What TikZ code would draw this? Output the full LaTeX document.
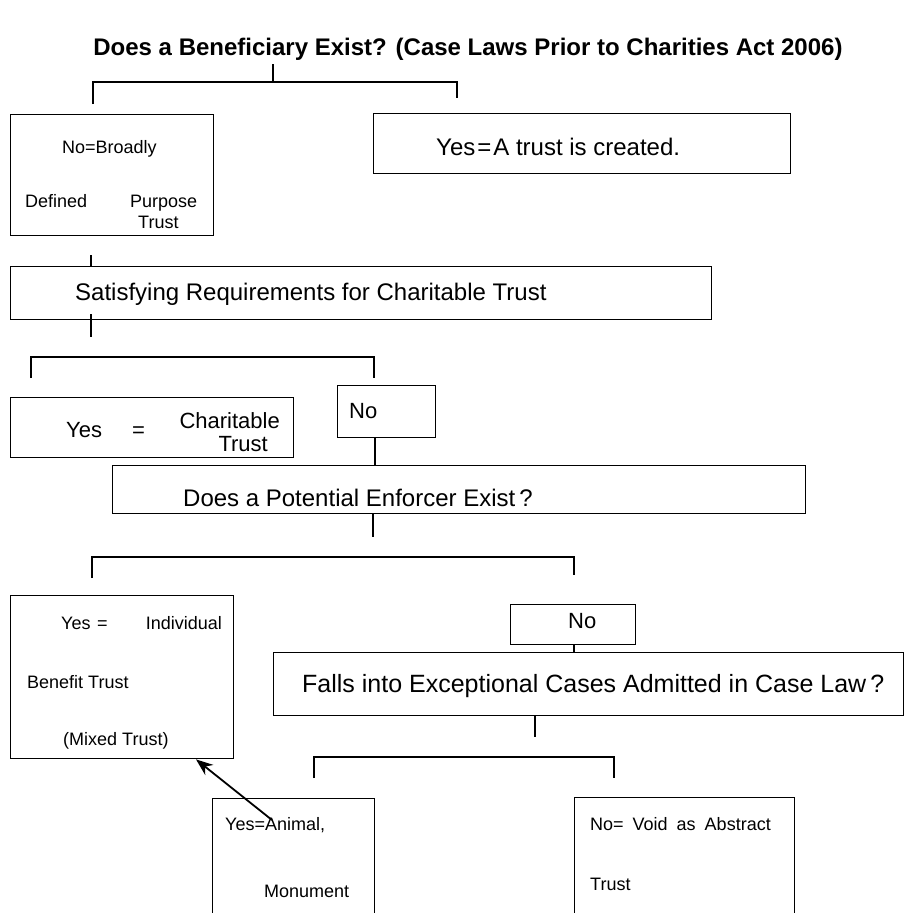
\documentclass[tikz,border=0pt]{standalone}
\usepackage{fontspec}
\setmainfont{Liberation Sans}
\usetikzlibrary{arrows.meta}
\newcommand{\titlesize}{\fontsize{24}{28}\selectfont\bfseries}
\newcommand{\bigsize}{\fontsize{24}{28}\selectfont}
\newcommand{\midsize}{\fontsize{22}{26}\selectfont}
\newcommand{\smallsize}{\fontsize{18}{22}\selectfont}
\begin{document}
\begin{tikzpicture}[x=1pt,y=-1pt,
    box/.style={draw, line width=1.4pt, inner sep=0pt, anchor=north west},
    txt/.style={inner sep=0pt, anchor=base west},
    link/.style={line width=1.4pt}]
  \useasboundingbox (0,0) rectangle (905,913);
  \clip (0,0) rectangle (905,913);
  \node (title) at (468,49) {\titlesize Does a Beneficiary Exist? (Case Laws Prior to Charities Act 2006)};
  % boxes
  \node[box, minimum width=203pt, minimum height=121pt] (broad) at (10,114) {};
  \node[box, minimum width=417pt, minimum height=60pt] (created) at (373,113) {};
  \node[box, minimum width=701pt, minimum height=53pt] (satisfy) at (10,266) {};
  \node[box, minimum width=283pt, minimum height=60pt] (charity) at (10,397) {};
  \node[box, minimum width=98pt, minimum height=52pt] (no1) at (337,385) {};
  \node[box, minimum width=693pt, minimum height=48pt] (enforcer) at (112,465) {};
  \node[box, minimum width=223pt, minimum height=163pt] (individual) at (10,595) {};
  \node[box, minimum width=125pt, minimum height=40pt] (no2) at (510,604) {};
  \node[box, minimum width=630pt, minimum height=63pt] (except) at (273,652) {};
  \node[box, minimum width=162pt, minimum height=140pt] (animal) at (212,798) {};
  \node[box, minimum width=220pt, minimum height=140pt] (abstract) at (574,797) {};
  % texts
  \node[txt] (broad1) at (62,153) {\smallsize No=Broadly};
  \node[txt] (broad2) at (25,207) {\smallsize Defined};
  \node[txt] (broad3) at (130,207) {\smallsize Purpose};
  \node[txt] (broad4) at (138,228) {\smallsize Trust};
  \node[txt] (created1) at (436,155) {\bigsize Yes\kern2pt=\kern2pt A trust is created.};
  \node[txt] (satisfy1) at (75,300) {\bigsize Satisfying Requirements for Charitable Trust};
  \node[txt] (charity1) at (66,437) {\midsize Yes};
  \node[txt] (charity2) at (132,437) {\midsize =};
  \node[txt, anchor=base east] (charity3) at (280,428) {\midsize Charitable};
  \node[txt, anchor=base east] (charity4) at (268,451) {\midsize Trust};
  \node[txt] (no1a) at (349,418) {\midsize No};
  \node[txt] (enforcer1) at (183,506) {\bigsize Does a Potential Enforcer Exist\,?};
  \node[txt] (individual1) at (61,629) {\smallsize Yes};
  \node[txt] (individual2) at (97,629) {\smallsize =};
  \node[txt, anchor=base east] (individual3) at (222,629) {\smallsize Individual};
  \node[txt] (individual4) at (27,688) {\smallsize Benefit Trust};
  \node[txt] (individual5) at (63,745) {\smallsize (Mixed Trust)};
  \node[txt] (no2a) at (568,628) {\midsize No};
  \node[txt] (except1) at (302,692) {\fontsize{25}{29}\selectfont Falls into Exceptional Cases Admitted in Case Law\,?};
  \node[txt] (animal1) at (225,830) {\smallsize Yes=Animal,};
  \node[txt] (animal2) at (264,897) {\smallsize Monument};
  \node[txt] (abstract1) at (590,830) {\smallsize No=\hspace{9pt}Void\hspace{9pt}as\hspace{9pt}Abstract};
  \node[txt] (abstract2) at (590,890) {\smallsize Trust};
  % tree points
  \coordinate (s1) at (273,64);
  \coordinate (bl1) at (93,82);
  \coordinate (br1) at (457,82);
  \coordinate (ll1) at (93,104);
  \coordinate (lr1) at (457,98);
  \coordinate (c1) at (91,255);
  \coordinate (c2) at (91,314);
  \coordinate (c3) at (91,337);
  \coordinate (bl2) at (31,357);
  \coordinate (br2) at (374,357);
  \coordinate (ll2) at (31,378);
  \coordinate (lr2) at (374,378);
  \coordinate (e1) at (375,0);
  \coordinate (f1) at (373,537);
  \coordinate (bl3) at (92,557);
  \coordinate (br3) at (574,557);
  \coordinate (ll3) at (92,578);
  \coordinate (lr3) at (574,575);
  \coordinate (h1) at (574,0);
  \coordinate (i1) at (535,737);
  \coordinate (bl4) at (314,757);
  \coordinate (br4) at (614,757);
  \coordinate (ll4) at (314,778);
  \coordinate (lr4) at (614,778);
  \coordinate (a1) at (272,820);
  \coordinate (a2) at (196,0);
  % connectors
  \draw[link] (s1) -- (s1 |- bl1);
  \draw[link] (ll1) -- (bl1) -- (br1) -- (lr1);
  \draw[link] (c1) -- (c1 |- satisfy.north);
  \draw[link] (c2) -- (c3);
  \draw[link] (ll2) -- (bl2) -- (br2) -- (lr2);
  \draw[link] (e1 |- no1.south) -- (e1 |- enforcer.north);
  \draw[link] (f1 |- enforcer.south) -- (f1);
  \draw[link] (ll3) -- (bl3) -- (br3) -- (lr3);
  \draw[link] (h1 |- no2.south) -- (h1 |- except.north);
  \draw[link] (i1 |- except.south) -- (i1);
  \draw[link] (ll4) -- (bl4) -- (br4) -- (lr4);
  \draw[line width=1.8pt, -{Stealth[length=17pt,width=13pt]}] (a1) -- (a2 |- individual.south);
\end{tikzpicture}
\end{document}
